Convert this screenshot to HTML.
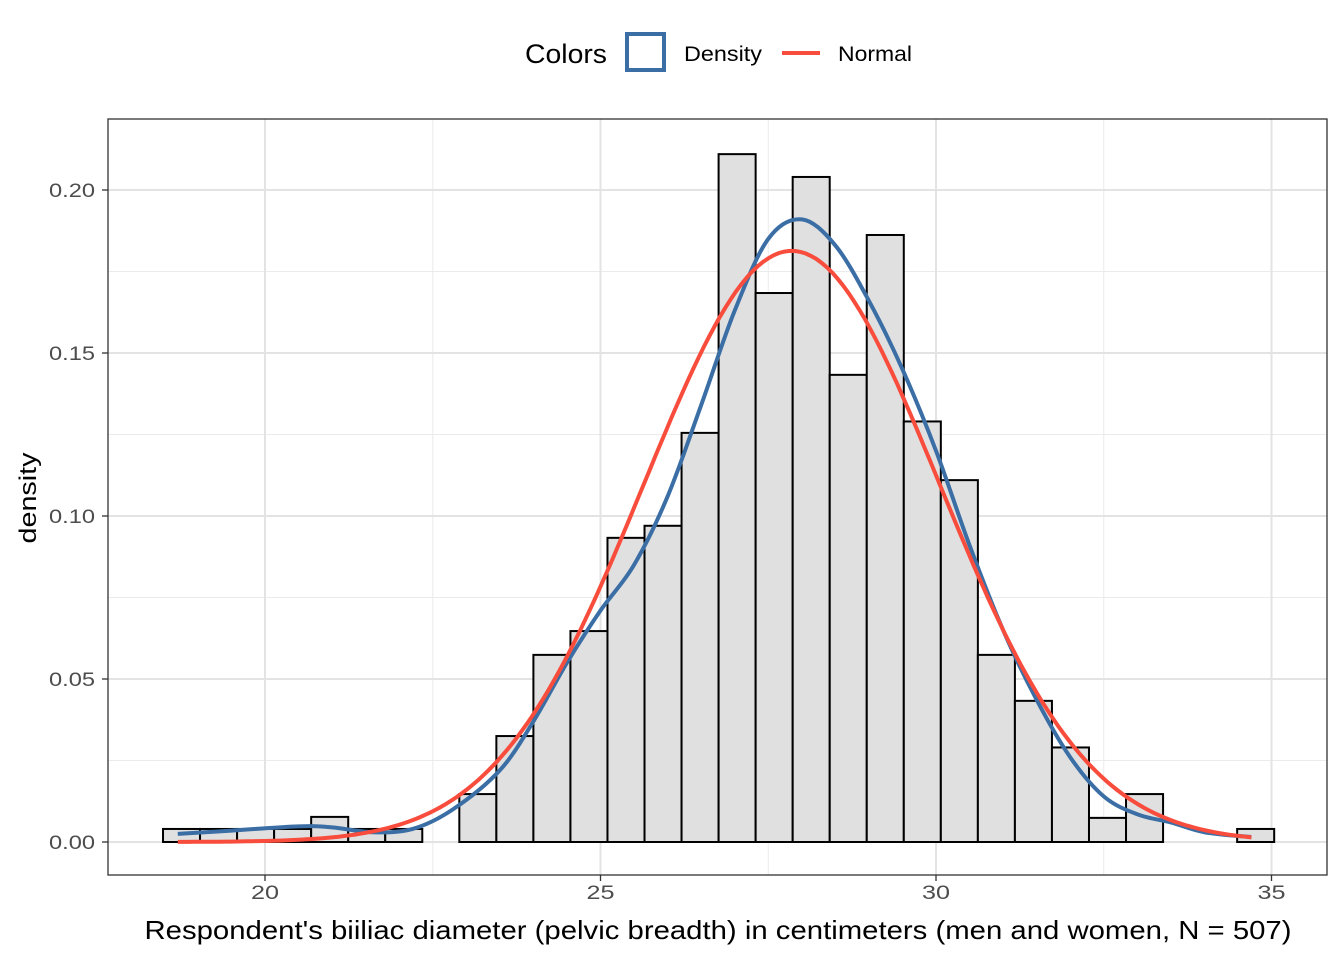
<!DOCTYPE html>
<html><head><meta charset="utf-8"><style>
html,body{margin:0;padding:0;background:#fff;}
svg{display:block;font-family:"Liberation Sans",Arial,sans-serif;}
</style></head><body>
<svg id="chart" width="1344" height="960" viewBox="0 0 1344 960">
<g id="grid"></g>
<g id="bars"></g>
<g id="curves"></g>
<rect x="108" y="119" width="1219" height="756" fill="none" stroke="#333" stroke-width="1.3"/>
<g id="axes"></g>
<text x="36" y="498" transform="rotate(-90 36 498)" text-anchor="middle" font-size="24" textLength="91" lengthAdjust="spacingAndGlyphs" fill="#000">density</text>
<text x="718" y="939" text-anchor="middle" font-size="26" textLength="1147" lengthAdjust="spacingAndGlyphs" fill="#000">Respondent's biiliac diameter (pelvic breadth) in centimeters (men and women, N = 507)</text>
<g>
<text x="525" y="63" font-size="27" textLength="82" lengthAdjust="spacingAndGlyphs" fill="#000">Colors</text>
<rect x="627" y="34" width="37" height="36" fill="none" stroke="#3a6ea5" stroke-width="4"/>
<text x="684" y="61" font-size="21" textLength="78" lengthAdjust="spacingAndGlyphs" fill="#000">Density</text>
<line x1="782" y1="53" x2="820" y2="53" stroke="#f84c3c" stroke-width="4"/>
<text x="838" y="61" font-size="21" textLength="74" lengthAdjust="spacingAndGlyphs" fill="#000">Normal</text>
</g>
</svg>
<script>
const binStart = 18.48;
const binWidth = 0.552;
const binDensities = [0.004,0.004,0.004,0.004,0.0077,0.004,0.004,0,0.0147,0.0325,0.0574,0.0647,0.0933,0.097,0.1255,0.211,0.1684,0.204,0.1433,0.1862,0.129,0.111,0.0574,0.0433,0.029,0.0074,0.0147,0,0,0.004];
const densityX = [18.7,19.5,20.5,21.0,21.6,22.2,22.8,23.5,24.0,24.5,25.0,25.5,26.0,26.5,27.0,27.5,28.0,28.5,29.0,29.5,30.0,30.5,31.0,31.5,32.0,32.5,33.0,33.5,34.0,34.7];
const densityY = [0.0025,0.0035,0.0048,0.0045,0.003,0.004,0.01,0.022,0.037,0.055,0.071,0.085,0.106,0.134,0.163,0.185,0.191,0.183,0.166,0.145,0.12,0.091,0.065,0.0436,0.026,0.014,0.0085,0.006,0.003,0.0015];
const normalMean = 27.85;
const normalSd = 2.2;
const xTicks = [20,25,30,35];
const yTicks = [0,0.05,0.10,0.15,0.20];
const yTickLabels = ["0.00","0.05","0.10","0.15","0.20"];

const NS="http://www.w3.org/2000/svg";
const X=v=>265+(v-20)*67.1;
const Y=v=>842-v*3260;
function mk(tag,attrs,parent){const e=document.createElementNS(NS,tag);for(const k in attrs)e.setAttribute(k,attrs[k]);parent.appendChild(e);return e;}
const grid=document.getElementById('grid'),bars=document.getElementById('bars'),curves=document.getElementById('curves'),axes=document.getElementById('axes');
[22.5,27.5,32.5].forEach(v=>{const l=mk('line',{x1:X(v),x2:X(v),y1:119,y2:875,stroke:'#ebebeb','stroke-width':1},grid);

});
[0.025,0.075,0.125,0.175].forEach(v=>{const l=mk('line',{x1:108,x2:1327,y1:Y(v),y2:Y(v),stroke:'#ebebeb','stroke-width':1},grid);

});
xTicks.forEach(v=>{const l=mk('line',{x1:X(v),x2:X(v),y1:119,y2:875,stroke:'#e3e3e3','stroke-width':2},grid);


const t=mk('line',{x1:X(v),x2:X(v),y1:875,y2:881,stroke:'#333','stroke-width':1.3},axes);


const tx=mk('text',{x:X(v),y:899,'text-anchor':'middle','font-size':19,textLength:28,lengthAdjust:'spacingAndGlyphs',fill:'#4d4d4d'},axes);tx.textContent=v;

});
yTicks.forEach((v,i)=>{const l=mk('line',{x1:108,x2:1327,y1:Y(v),y2:Y(v),stroke:'#e3e3e3','stroke-width':2},grid);


const t=mk('line',{x1:102,x2:108,y1:Y(v),y2:Y(v),stroke:'#333','stroke-width':1.3},axes);


const tx=mk('text',{x:95,y:Y(v)+7,'text-anchor':'end','font-size':19,textLength:46,lengthAdjust:'spacingAndGlyphs',fill:'#4d4d4d'},axes);tx.textContent=yTickLabels[i];

});
binDensities.forEach((d,i)=>{const x0=X(binStart+i*binWidth),x1=X(binStart+(i+1)*binWidth);
const r=mk('rect',{x:x0,y:Y(d),width:x1-x0,height:Y(0)-Y(d),fill:'#e0e0e0',stroke:'#000','stroke-width':2},bars);

});
const pts=densityX.map((x,i)=>[X(x),Y(densityY[i])]);
let d='M'+pts[0][0]+','+pts[0][1];
for(let i=0;i<pts.length-1;i++){const p0=pts[Math.max(0,i-1)],p1=pts[i],p2=pts[i+1],p3=pts[Math.min(pts.length-1,i+2)];
d+=` C${p1[0]+(p2[0]-p0[0])/6},${p1[1]+(p2[1]-p0[1])/6} ${p2[0]-(p3[0]-p1[0])/6},${p2[1]-(p3[1]-p1[1])/6} ${p2[0]},${p2[1]}`;}
const dp=mk('path',{d:d,fill:'none',stroke:'#3a6ea5','stroke-width':4},curves);


let nd='';for(let i=0;i<=200;i++){const x=18.7+i*(34.7-18.7)/200;const y=Math.exp(-0.5*((x-normalMean)/normalSd)**2)/(normalSd*Math.sqrt(2*Math.PI));nd+=(i?'L':'M')+X(x).toFixed(1)+','+Y(y).toFixed(1);}
const np=mk('path',{d:nd,fill:'none',stroke:'#f84c3c','stroke-width':4},curves);


</script>
</body></html>
